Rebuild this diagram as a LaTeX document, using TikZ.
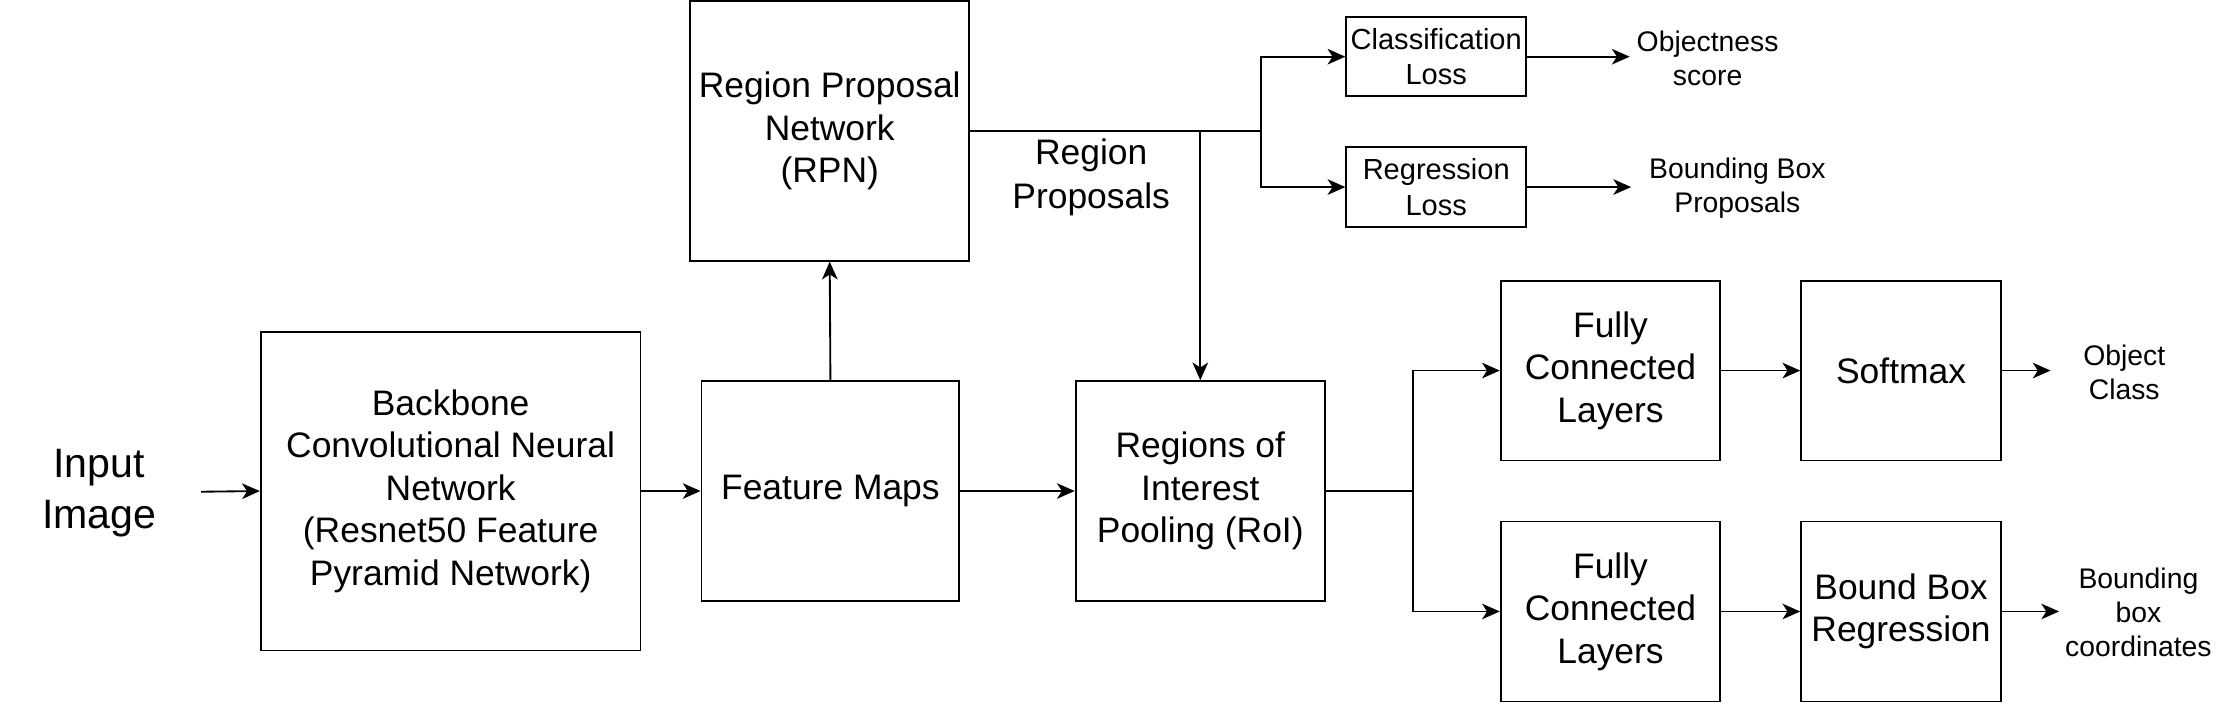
\documentclass[tikz,border=0pt]{standalone}
\usepackage{fontspec}
\setmainfont{Liberation Sans}
\usetikzlibrary{arrows.meta}
\tikzset{
  box/.style={draw, line width=1.3pt, align=center, inner sep=0pt, font=\fontsize{25}{30}\selectfont},
  smallbox/.style={draw, line width=1.3pt, align=center, inner sep=0pt, font=\fontsize{20.5}{25}\selectfont},
  lbl/.style={align=center, inner sep=0pt, font=\fontsize{20}{24}\selectfont},
  conn/.style={line width=1.3pt},
  arr/.style={line width=1.3pt, -{Stealth[length=12.5pt,width=11pt,inset=3.5pt]}}
}
\begin{document}
\begin{tikzpicture}[x=1pt,y=-1pt]
\useasboundingbox (0,0) rectangle (1568,497);
\node[align=center, inner sep=0pt, font=\fontsize{29}{36}\selectfont] (input) at (70,348) {Input\\Image};
\coordinate (inS) at (142,347);
\node[box, minimum width=268pt, minimum height=225pt] (bb) at (318,346.5) {Backbone\\Convolutional Neural\\Network\\(Resnet50 Feature\\Pyramid Network)};
\node[box, minimum width=182pt, minimum height=155pt] (fm) at (586,346.5) {Feature Maps};
\node[box, minimum width=197pt, minimum height=183pt] (rpn) at (585.5,92.5) {Region Proposal\\Network\\(RPN)};
\node[box, minimum width=176pt, minimum height=155pt] (roi) at (847,346.5) {Regions of\\Interest\\Pooling (RoI)};
\node[align=center, inner sep=0pt, font=\fontsize{25}{31}\selectfont] (rp) at (770,125) {Region\\Proposals};
\node[smallbox, minimum width=127pt, minimum height=56pt] (cls) at (1013.5,40) {Classification\\Loss};
\node[smallbox, minimum width=127pt, minimum height=56pt] (reg) at (1013.5,132) {Regression\\Loss};
\node[lbl] (obj) at (1205,41) {Objectness\\score};
\node[lbl] (bbp) at (1226,133) {Bounding Box\\Proposals};
\node[box, minimum width=155pt, minimum height=127pt] (fc1) at (1136.5,261.5) {Fully\\Connected\\Layers};
\node[box, minimum width=155pt, minimum height=127pt] (fc2) at (1136.5,431.5) {Fully\\Connected\\Layers};
\node[box, minimum width=141pt, minimum height=127pt] (soft) at (1341.5,261.5) {Softmax};
\node[box, minimum width=141pt, minimum height=127pt] (bbr) at (1341.5,431.5) {Bound Box\\Regression};
\node[lbl] (oc) at (1499,263) {Object\\Class};
\node[lbl] (bbc) at (1509,432) {Bounding\\box\\coordinates};
\coordinate (j1) at (847,92.5);
\coordinate (sp) at (890,92.5);
\coordinate (j2) at (997,346.5);
\coordinate (e1) at (1150,40);
\coordinate (e2) at (1151,132);
\coordinate (e3) at (1447,261.5);
\coordinate (e4) at (1453,431.5);
\draw[arr] (inS) -- (bb.west);
\draw[arr] (bb.east) -- (fm.west);
\draw[arr] (fm.north) -- (rpn.south);
\draw[conn] (rpn.east) -- (sp);
\draw[arr] (j1) -- (roi.north);
\draw[arr] (sp) |- (cls.west);
\draw[arr] (sp) |- (reg.west);
\draw[arr] (cls.east) -- (e1);
\draw[arr] (reg.east) -- (e2);
\draw[arr] (fm.east) -- (roi.west);
\draw[conn] (roi.east) -- (j2);
\draw[arr] (j2) |- (fc1.west);
\draw[arr] (j2) |- (fc2.west);
\draw[arr] (fc1.east) -- (soft.west);
\draw[arr] (fc2.east) -- (bbr.west);
\draw[arr] (soft.east) -- (e3);
\draw[arr] (bbr.east) -- (e4);
\end{tikzpicture}
\end{document}
